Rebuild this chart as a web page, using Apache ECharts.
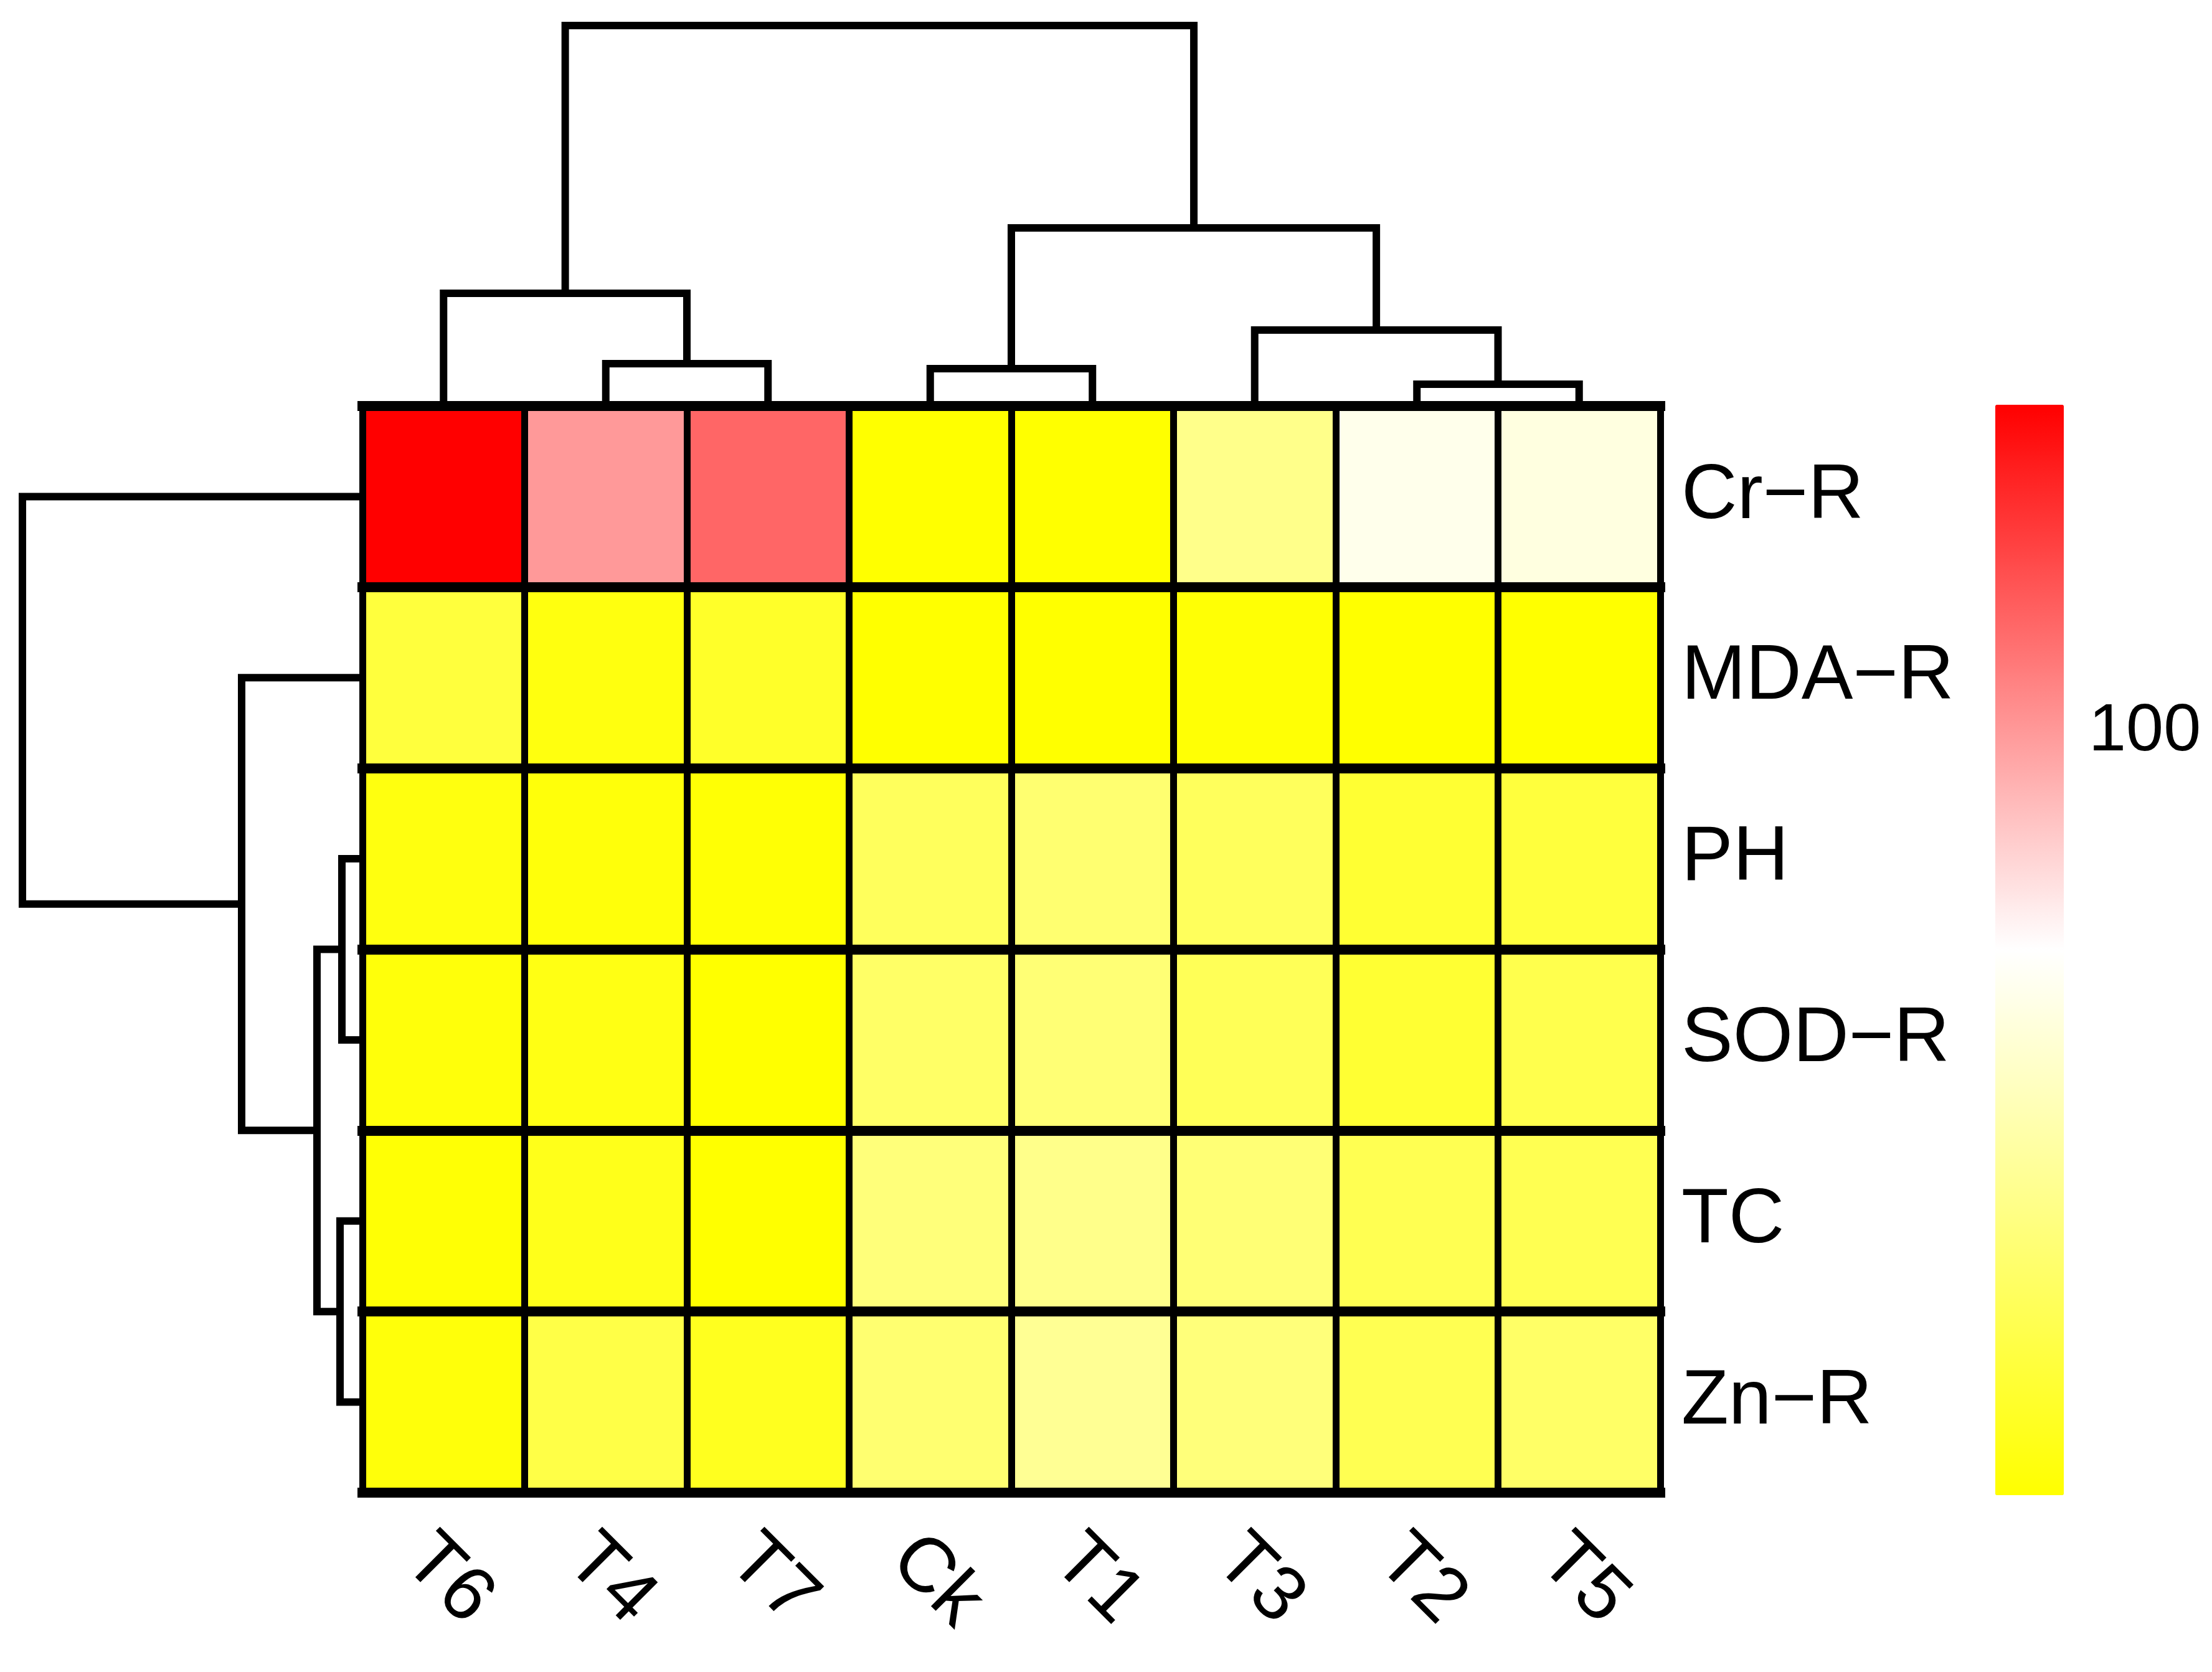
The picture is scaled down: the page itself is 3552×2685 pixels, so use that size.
<!DOCTYPE html>
<html><head><meta charset="utf-8">
<script src="https://cdn.jsdelivr.net/npm/echarts@6/dist/echarts.min.js"></script>
<style>html,body{margin:0;padding:0;background:#fff}#c{width:3552px;height:2685px}</style>
</head><body><div id="c"></div>
<script>
// ---- data ----
const colLabels = ['T6', 'T4', 'T7', 'Ck', 'T1', 'T3', 'T2', 'T5'];
const rowLabels = ['Cr\u2212R', 'MDA\u2212R', 'PH', 'SOD\u2212R', 'TC', 'Zn\u2212R'];
const crR  = [130, 100, 110, 30, 30, 57, 76, 74];
const mdaR = [42, 33, 38, 30, 30, 31, 30, 30];
const ph   = [33, 32, 31, 48, 52, 48, 40, 42];
const sodR = [32, 34, 30, 50, 53, 47, 40, 45];
const tc   = [31, 35, 30, 54, 57, 53, 46, 46];
const znR  = [32, 44, 36, 52, 59, 54, 46, 50];
const colorMin = 30, colorMax = 130;
const colorTicks = [100];
// dendrogram merges: [childA, childB, height]; a child is a leaf label or the index of an earlier merge
const colMerges = [['T4', 'T7', 68], ['Ck', 'T1', 60], ['T2', 'T5', 35], ['T6', 0, 181], ['T3', 2, 122], [1, 4, 286], [3, 5, 611]];
const rowMerges = [['PH', 'SOD\u2212R', 33], ['TC', 'Zn\u2212R', 36], [0, 1, 73], ['MDA\u2212R', 2, 194], ['Cr\u2212R', 3, 546]];
const colTreeMax = 611, rowTreeMax = 546;

// ---- build ----
const matrix = [crR, mdaR, ph, sodR, tc, znR];
const heatData = [];
matrix.forEach((row, r) => row.forEach((v, c) => heatData.push([c, r, v])));

function dendro(merges, leaves, swap) {
  const pos = [], hts = [], segs = [];
  const node = c => typeof c === 'number' ? { p: pos[c], h: hts[c] } : { p: leaves.indexOf(c) + 0.5, h: 0 };
  merges.forEach((m, i) => {
    const a = node(m[0]), b = node(m[1]);
    pos[i] = (a.p + b.p) / 2; hts[i] = m[2];
    let pts = [[a.p, a.h], [a.p, m[2]], [b.p, m[2]], [b.p, b.h]];
    if (swap) pts = pts.map(q => [q[1], q[0]]);
    segs.push({ coords: pts });
  });
  return segs;
}

const FONT = 'Liberation Sans';
const chart = echarts.init(document.getElementById('c'), null, { renderer: 'canvas' });
chart.setOption({
  backgroundColor: '#ffffff',
  animation: false,
  grid: [
    { left: 582, top: 652, width: 2084, height: 1745 },
    { left: 582, top: 41, width: 2084, height: 611 },
    { left: 36, top: 652, width: 546, height: 1745 },
    { left: 3204, top: 650, width: 110, height: 1751 }
  ],
  xAxis: [
    { gridIndex: 0, type: 'category', data: colLabels, position: 'bottom', z: 10,
      axisLine: { show: false }, axisTick: { show: false },
      axisLabel: { interval: 0, rotate: -45, margin: 45, verticalAlign: 'top', fontSize: 124, color: '#000', fontFamily: FONT },
      splitLine: { show: true, interval: 0, lineStyle: { color: '#000', width: 11, cap: 'square' } } },
    { gridIndex: 1, type: 'value', min: 0, max: colLabels.length, show: false },
    { gridIndex: 2, type: 'value', min: 0, max: rowTreeMax, inverse: true, show: false },
    { gridIndex: 3, type: 'value', min: 0, max: 1, show: false }
  ],
  yAxis: [
    { gridIndex: 0, type: 'category', data: rowLabels, inverse: true, position: 'right', z: 10,
      axisLine: { show: false }, axisTick: { show: false },
      axisLabel: { interval: 0, margin: 34, fontSize: 124, color: '#000', fontFamily: FONT },
      splitLine: { show: true, interval: 0, lineStyle: { color: '#000', width: 16, cap: 'square' } } },
    { gridIndex: 1, type: 'value', min: 0, max: colTreeMax, show: false },
    { gridIndex: 2, type: 'value', min: 0, max: rowLabels.length, inverse: true, show: false },
    { gridIndex: 3, type: 'value', min: colorMin, max: colorMax, interval: 10, position: 'right',
      axisLine: { show: false }, axisTick: { show: false }, splitLine: { show: false },
      axisLabel: { customValues: colorTicks, formatter: v => colorTicks.includes(v) ? String(v) : '',
        margin: 40, fontSize: 108, color: '#000', fontFamily: FONT } }
  ],
  visualMap: {
    type: 'continuous', min: colorMin, max: colorMax, seriesIndex: 0, calculable: false,
    orient: 'vertical', left: 3204, top: 650, itemWidth: 110, itemHeight: 1751, padding: 0,
    text: null, hoverLink: false,
    inRange: { color: ['#FFFF00', '#FFFFFF', '#FF0000'] }
  },
  series: [
    { type: 'heatmap', xAxisIndex: 0, yAxisIndex: 0, data: heatData, itemStyle: { borderWidth: 0 },
      emphasis: { disabled: true } },
    { type: 'lines', coordinateSystem: 'cartesian2d', xAxisIndex: 1, yAxisIndex: 1, polyline: true,
      data: dendro(colMerges, colLabels, false), silent: true,
      lineStyle: { color: '#000', width: 12, opacity: 1, cap: 'square', join: 'miter' } },
    { type: 'lines', coordinateSystem: 'cartesian2d', xAxisIndex: 2, yAxisIndex: 2, polyline: true,
      data: dendro(rowMerges, rowLabels, true), silent: true,
      lineStyle: { color: '#000', width: 12, opacity: 1, cap: 'square', join: 'miter' } }
  ]
});
</script></body></html>
